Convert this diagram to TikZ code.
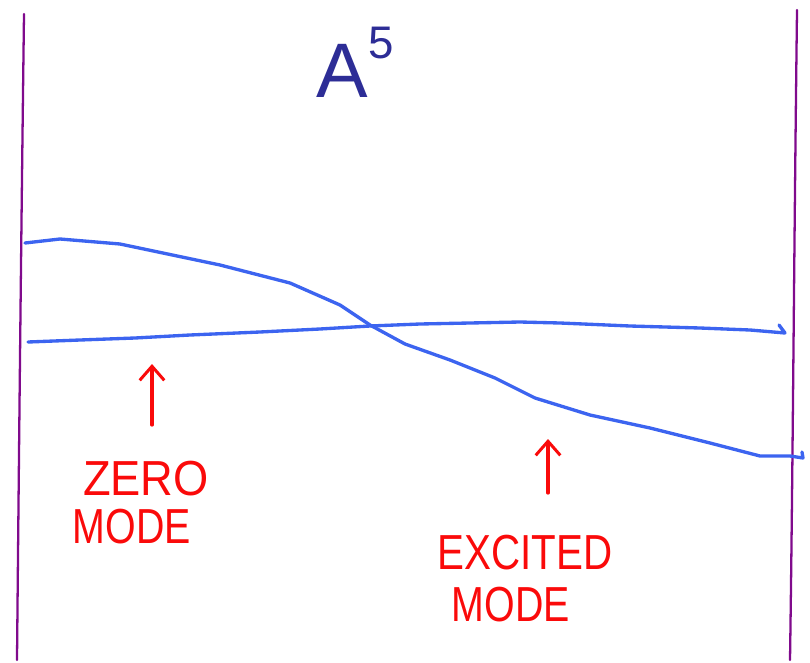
\documentclass[tikz,border=0pt]{standalone}
\usepackage{fontspec}
\usepackage{graphicx}
\setmainfont{Liberation Sans}
\usetikzlibrary{arrows.meta}
\definecolor{wallpurple}{RGB}{128,10,140}
\definecolor{modeblue}{RGB}{60,100,240}
\definecolor{inkred}{RGB}{250,10,10}
\definecolor{navyink}{RGB}{45,45,150}
\tikzset{
  wall/.style={draw=wallpurple, line width=1.3pt, line cap=round},
  modeline/.style={draw=modeblue, line width=1.9pt, line cap=round, line join=round},
  pointer/.style={draw=inkred, line width=1.9pt, line cap=round, -{Straight Barb[length=8pt,width=14pt,line width=1.7pt]}},
  redlabel/.style={text=inkred, font=\fontsize{28}{30}\selectfont, inner sep=0pt},
}
\begin{document}
\begin{tikzpicture}[x=0.02cm,y=-0.02cm]
\useasboundingbox (0,0) rectangle (810,662);
% walls
\coordinate (lwtop) at (24,14);
\coordinate (lwbot) at (17,660);
\coordinate (rwtop) at (797,10);
\coordinate (rwbot) at (790,660);
\draw[wall] (lwtop) .. controls (21,250) and (19,450) .. (lwbot);
\draw[wall] (rwtop) .. controls (794,250) and (793,450) .. (rwbot);
% excited mode curve
\coordinate (exs) at (25,243);
\coordinate (exe) at (803,458);
\draw[modeline] (exs) -- (60,239) -- (120,244) -- (220,265) -- (290,283) -- (340,305) -- (370,325) -- (405,344) -- (450,360) -- (495,378) -- (535,398) -- (590,415) -- (650,428) -- (710,443) -- (760,456) -- (790,456) -- (exe) -- (802,452);
% zero mode curve
\coordinate (zs) at (28,342);
\coordinate (ze) at (785,333);
\draw[modeline] (zs) -- (80,340) -- (135,338) -- (190,335) -- (260,332) -- (320,329) -- (370,326) -- (420,324) -- (520,322) -- (560,323) -- (630,326) -- (700,328) -- (750,330) -- (ze) -- (779,325);
% label A^5
\node[text=navyink, font=\fontsize{44}{46}\selectfont, inner sep=0pt] (a5) at (355,62) {A\raisebox{0.5em}{\fontsize{26}{28}\selectfont 5}};
% labels
\node[redlabel] (zero) at (146,479) {\scalebox{0.92}[1]{ZERO}};
\node[redlabel] (zmode) at (132,527) {\scalebox{0.8}[1]{MODE}};
\node[redlabel] (excited) at (525,553) {\scalebox{0.82}[1]{EXCITED}};
\node[redlabel] (emode) at (511,605) {\scalebox{0.8}[1]{MODE}};
% pointers
\coordinate (zp0) at (152,425);
\coordinate (zp1) at (152,364);
\coordinate (ep0) at (548,493);
\coordinate (ep1) at (548,439);
\draw[pointer] (zp0) -- (zp1);
\draw[pointer] (ep0) -- (ep1);
\end{tikzpicture}
\end{document}
